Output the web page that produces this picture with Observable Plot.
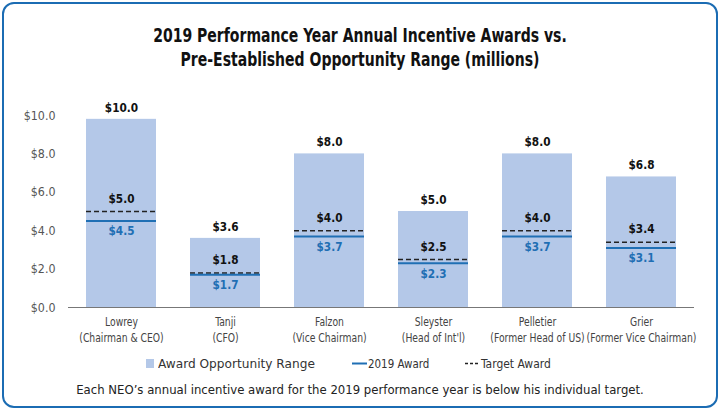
<!DOCTYPE html>
<html>
<head>
<meta charset="utf-8">
<script src="https://cdn.jsdelivr.net/npm/d3@7"></script>
<script src="https://cdn.jsdelivr.net/npm/@observablehq/plot@0.6"></script>
<style>
  html, body { margin: 0; padding: 0; background: #fff; }
  body { position: relative; width: 720px; height: 411px; overflow: hidden;
    font-family: "DejaVu Sans Condensed", "Liberation Sans Narrow", sans-serif;
    font-stretch: condensed; }
  #card {
    position: absolute; left: 2px; top: 2px; width: 716px; height: 406px;
    border: 2px solid #1b6cb3; border-radius: 12px; box-sizing: border-box;
  }
  #title {
    position: absolute; left: 0; width: 720px; top: 23px; text-align: center;
    font-weight: bold; font-size: 19px; line-height: 24px; color: #111;
    transform: scaleX(0.82); transform-origin: 360px 0;
  }
  #chart { position: absolute; left: 0; top: 76px; width: 720px; }
  #chart svg { max-width: none; }
  .li {
    position: absolute; top: 355px; display: flex; align-items: center;
    font-size: 13px; color: #333; white-space: nowrap; height: 16px;
  }
  #caption {
    position: absolute; top: 382px; left: 0; width: 720px; text-align: center;
    font-size: 13px; color: #222;
  }
</style>
</head>
<body>
<div id="card"></div>
<div id="title">2019 Performance Year Annual Incentive Awards vs.<br>Pre-Established Opportunity Range (millions)</div>
<div id="chart"></div>
<span class="li" style="left:146px"><svg width="8" height="9" style="margin-right:4px"><rect width="8" height="9" fill="#b4c8e8"/></svg><span style="display:inline-block;transform:scaleX(1.04);transform-origin:0 0">Award Opportunity Range</span></span>
<span class="li" style="left:352px"><svg width="15" height="9" style="margin-right:1px"><line x1="0" x2="15" y1="4.5" y2="4.5" stroke="#1f6fb4" stroke-width="2"/></svg><span style="display:inline-block;transform:scaleX(0.88);transform-origin:0 0">2019 Award</span></span>
<span class="li" style="left:465px"><svg width="14" height="9" style="margin-right:2px"><line x1="0" x2="14" y1="4.5" y2="4.5" stroke="#222" stroke-width="1.5" stroke-dasharray="3,2"/></svg><span style="display:inline-block;transform:scaleX(0.92);transform-origin:0 0">Target Award</span></span>
<div id="caption">Each NEO’s annual incentive award for the 2019 performance year is below his individual target.</div>
<script>
const names = ["Lowrey", "Tanji", "Falzon", "Sleyster", "Pelletier", "Grier"];
const roles = ["(Chairman & CEO)", "(CFO)", "(Vice Chairman)", "(Head of Int'l)", "(Former Head of US)", "(Former Vice Chairman)"];
const rangeMax = [9.8, 3.6, 8.0, 5.0, 8.0, 6.8];
const rangeLabel = ["$10.0", "$3.6", "$8.0", "$5.0", "$8.0", "$6.8"];
const target = [5.0, 1.8, 4.0, 2.5, 4.0, 3.4];
const award = [4.5, 1.7, 3.7, 2.3, 3.7, 3.1];
const yTicks = [0, 2, 4, 6, 8, 10];

const data = names.map((n, i) => ({
  name: n, role: roles[i], max: rangeMax[i], maxLabel: rangeLabel[i],
  target: target[i], award: award[i]
}));
const roleOf = Object.fromEntries(names.map((n, i) => [n, roles[i]]));
const fmt = v => "$" + v.toFixed(1);
const blue = "#1f6fb4";

const plot = Plot.plot({
  width: 720,
  height: 268,
  marginTop: 39,
  marginBottom: 37,
  marginLeft: 68,
  marginRight: 26,
  style: { fontFamily: "'DejaVu Sans Condensed', 'Liberation Sans Narrow', sans-serif", fontStretch: "condensed", background: "transparent" },
  x: { domain: names, paddingInner: 0.33, paddingOuter: 0.165, label: null },
  y: { domain: [0, 10], label: null },
  marks: [
    Plot.barY(data, { x: "name", y: "max", fill: "#b4c8e8" }),
    Plot.ruleY([0], { stroke: "#777", strokeWidth: 1 }),
    Plot.tickY(data, { x: "name", y: "target", stroke: "#222", strokeWidth: 1.6, strokeDasharray: "5,3" }),
    Plot.tickY(data, { x: "name", y: "award", stroke: blue, strokeWidth: 2 }),
    Plot.text(data, { x: "name", y: "max", text: "maxLabel", dy: -12, fontWeight: "bold", fontSize: 13, fill: "#111" }),
    Plot.text(data, { x: "name", y: "target", text: d => fmt(d.target), dy: -13, fontWeight: "bold", fontSize: 13, fill: "#111" }),
    Plot.text(data, { x: "name", y: "award", text: d => fmt(d.award), dy: 10, fontWeight: "bold", fontSize: 13, fill: blue }),
    Plot.axisY({ ticks: yTicks, tickFormat: fmt, tickSize: 0, tickPadding: 13, fontSize: 13, color: "#555", label: null }),
    Plot.axisX({ tickSize: 0, tickPadding: 8, fontSize: 13, color: "#444", lineHeight: 1.18,
      tickFormat: n => n + "\n" + roleOf[n], label: null })
  ]
});
document.getElementById("chart").appendChild(plot);

// compress glyphs horizontally around each text's anchor to mimic the condensed face
function squeeze(selector, k) {
  plot.querySelectorAll(selector).forEach(t => {
    const tr = t.getAttribute("transform");
    if (tr) t.setAttribute("transform", tr + ` scale(${k},1)`);
  });
}
squeeze('g[aria-label="x-axis tick label"] text', 0.79);
squeeze('g[aria-label="text"] text', 0.9);
squeeze('g[aria-label="y-axis tick label"] text', 0.95);
</script>
</body>
</html>
